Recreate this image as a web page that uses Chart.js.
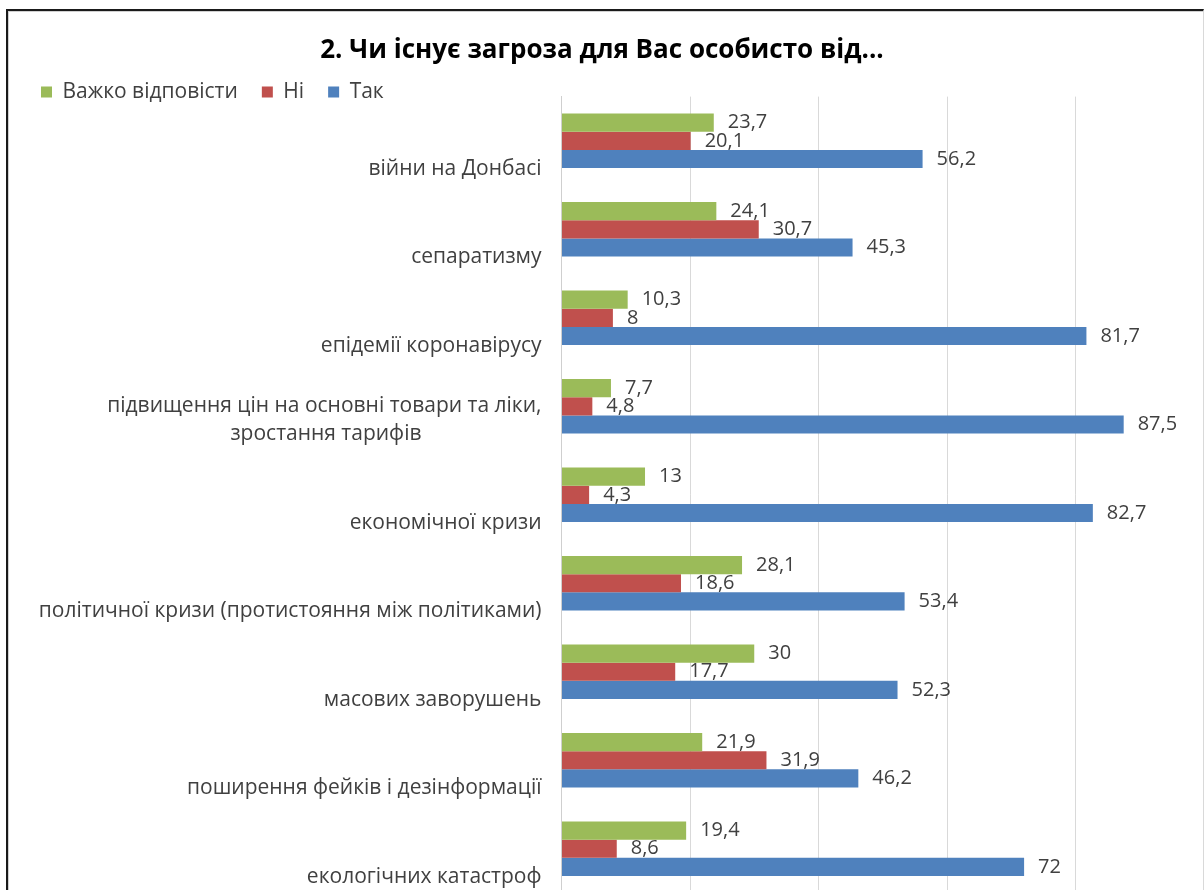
<!DOCTYPE html>
<html lang="uk">
<head>
<meta charset="utf-8">
<title>Chart</title>
<script src="https://cdn.jsdelivr.net/npm/chart.js@4.4.1/dist/chart.umd.min.js"></script>
<style>
  html, body { margin: 0; padding: 0; background: #ffffff; overflow: hidden; width: 1204px; height: 890px; }
  #frame { position: absolute; left: 6px; top: 9px; width: 1195px; height: 900px;
           border-left: 2px solid #1a1a1a; border-top: 2px solid #1a1a1a; border-right: 1px solid #d9d9d9;
           box-shadow: inset 1px 1px 0 #d0d0d0; }
  #wrap { position: absolute; left: 0; top: 0; width: 1204px; height: 893px; }
</style>
</head>
<body>
<div id="frame"></div>
<div id="wrap"><canvas id="c" width="1204" height="893"></canvas></div>
<script>
const titleText = '2. Чи існує загроза для Вас особисто від...';
const categories = [
  'війни на Донбасі',
  'сепаратизму',
  'епідемії коронавірусу',
  ['підвищення цін на основні товари та ліки,', 'зростання тарифів'],
  'економічної кризи',
  'політичної кризи (протистояння між політиками)',
  'масових заворушень',
  'поширення фейків і дезінформації',
  'екологічних катастроф'
];
const seriesNames = ['Важко відповісти', 'Ні', 'Так'];
const hardToSay = [23.7, 24.1, 10.3, 7.7, 13, 28.1, 30, 21.9, 19.4];
const no        = [20.1, 30.7, 8, 4.8, 4.3, 18.6, 17.7, 31.9, 8.6];
const yes       = [56.2, 45.3, 81.7, 87.5, 82.7, 53.4, 52.3, 46.2, 72];
const xTicks = [0, 20, 40, 60, 80, 100];

const FONT = '"Open Sans"';
const LABEL_SIZE = 21;
const measureCtx = document.createElement('canvas').getContext('2d');
measureCtx.font = LABEL_SIZE + 'px ' + FONT;

function centerLines(lines) {
  const widths = lines.map(l => measureCtx.measureText(l).width);
  const maxW = Math.max(...widths);
  const sp = measureCtx.measureText(' ').width;
  const out = lines.map((l, i) => l + ' '.repeat(Math.round((maxW - widths[i]) / 2 / sp)));
  out.push('');
  return out;
}

const fmt = v => String(v).replace('.', ',');

const layoutTweak = {
  id: 'layoutTweak',
  beforeLayout(chart) {
    const lg = chart.legend;
    if (lg && !lg._wrapped) {
      const orig = lg.fit;
      lg.fit = function () { orig.call(this); this.height = 32; };
      lg._wrapped = true;
    }
  },
  afterLayout(chart) {
    const lg = chart.legend;
    if (lg) { lg.top -= 7; lg.bottom = lg.top + 50; lg.left += 17; lg.right += 17; }
  }
};

const valueLabels = {
  id: 'valueLabels',
  afterDatasetsDraw(chart) {
    const ctx = chart.ctx;
    ctx.save();
    ctx.font = '20px ' + FONT;
    ctx.fillStyle = '#404040';
    ctx.textBaseline = 'middle';
    ctx.textAlign = 'left';
    chart.data.datasets.forEach((ds, i) => {
      const meta = chart.getDatasetMeta(i);
      meta.data.forEach((el, j) => {
        ctx.fillText(fmt(ds.data[j]), el.x + 14, el.y);
      });
    });
    ctx.restore();
  }
};

new Chart(document.getElementById('c'), {
  type: 'bar',
  data: {
    labels: categories,
    datasets: [
      { label: seriesNames[0], data: hardToSay, backgroundColor: '#9BBB59' },
      { label: seriesNames[1], data: no, backgroundColor: '#C0504D' },
      { label: seriesNames[2], data: yes, backgroundColor: '#4F81BD' }
    ]
  },
  options: {
    indexAxis: 'y',
    responsive: false,
    devicePixelRatio: 1,
    animation: false,
    categoryPercentage: 0.616,
    barPercentage: 1,
    layout: { padding: 0 },
    plugins: {
      title: {
        display: true, text: titleText, color: '#000000',
        font: { family: FONT, size: 26, weight: 'bold', lineHeight: 1.1 },
        padding: { top: 36, bottom: 0 }
      },
      legend: {
        display: true, position: 'top', align: 'start',
        labels: {
          font: { family: FONT, size: 21 }, color: '#404040',
          boxWidth: 11, boxHeight: 11, padding: 24
        }
      },
      tooltip: { enabled: false }
    },
    scales: {
      x: {
        type: 'linear', position: 'bottom', min: 0, max: 100,
        afterBuildTicks(scale) { scale.ticks = xTicks.map(v => ({ value: v })); },
        ticks: { display: false },
        grid: { color: '#D9D9D9', lineWidth: 1, drawTicks: false },
        border: { display: false }
      },
      y: {
        type: 'category',
        afterFit(scale) { scale.width = 561.5; scale.paddingTop = 0; scale.paddingBottom = 0; },
        grid: { display: false, drawTicks: false },
        border: { display: true, color: '#CFCFCF', width: 1 },
        ticks: {
          autoSkip: false,
          padding: 20,
          labelOffset: 28,
          color: '#404040',
          font: { family: FONT, size: LABEL_SIZE, lineHeight: 28 / LABEL_SIZE },
          callback(value) {
            const l = this.getLabelForValue(value);
            return Array.isArray(l) ? centerLines(l) : l;
          }
        }
      }
    }
  },
  plugins: [layoutTweak, valueLabels]
});
</script>
</body>
</html>
